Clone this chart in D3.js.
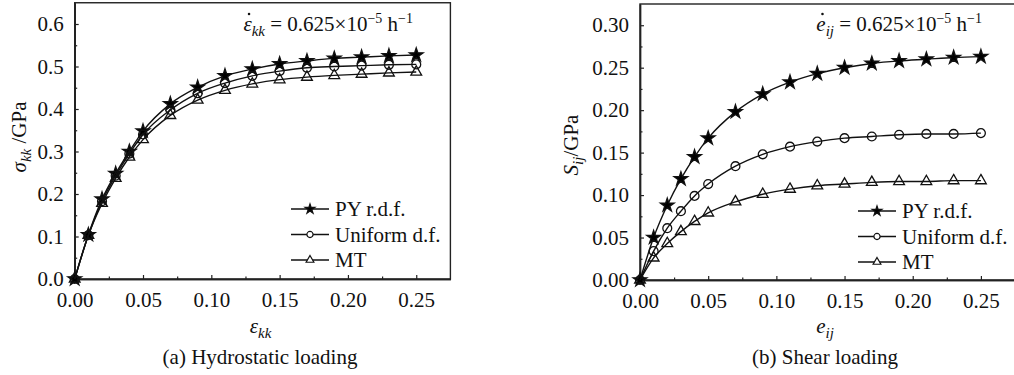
<!DOCTYPE html>
<html>
<head>
<meta charset="utf-8">
<script src="https://cdn.jsdelivr.net/npm/d3@7"></script>
<style>
  body { margin: 0; background: #fff; }
  svg { display: block; }
  text { font-family: "Times New Roman", "Liberation Serif", Tinos, "Noto Serif", "DejaVu Serif", serif; fill: #111; }
</style>
</head>
<body>
<div id="chart"></div>
<script>
// strain values shared by both panels
const strain = [0, 0.01, 0.02, 0.03, 0.04, 0.05, 0.07, 0.09, 0.11, 0.13, 0.15, 0.17, 0.19, 0.21, 0.23, 0.25];

// (a) hydrostatic loading, sigma_kk in GPa
const hydroPY = [0, 0.104, 0.188, 0.248, 0.300, 0.348, 0.412, 0.451, 0.478, 0.494, 0.506, 0.513, 0.519, 0.522, 0.525, 0.527];
const hydroUniform = [0, 0.103, 0.183, 0.243, 0.295, 0.340, 0.398, 0.437, 0.461, 0.478, 0.489, 0.497, 0.500, 0.502, 0.504, 0.505];
const hydroMT = [0, 0.103, 0.178, 0.237, 0.287, 0.328, 0.385, 0.421, 0.444, 0.459, 0.469, 0.475, 0.479, 0.482, 0.485, 0.487];

// (b) shear loading, S_ij in GPa
const shearPY = [0, 0.050, 0.088, 0.119, 0.145, 0.167, 0.198, 0.219, 0.233, 0.243, 0.250, 0.255, 0.258, 0.260, 0.262, 0.263];
const shearUniform = [0, 0.034, 0.061, 0.081, 0.099, 0.113, 0.134, 0.148, 0.157, 0.163, 0.167, 0.169, 0.171, 0.172, 0.172, 0.173];
const shearMT = [0, 0.026, 0.043, 0.057, 0.069, 0.079, 0.092, 0.101, 0.107, 0.111, 0.113, 0.115, 0.116, 0.116, 0.117, 0.117];

const seriesNames = ['PY r.d.f.', 'Uniform d.f.', 'MT'];

const xTicks = [0, 0.05, 0.10, 0.15, 0.20, 0.25];
const xMinor = [0.025, 0.075, 0.125, 0.175, 0.225];
const hydroTicks = [0, 0.1, 0.2, 0.3, 0.4, 0.5, 0.6];
const hydroMinor = [0.05, 0.15, 0.25, 0.35, 0.45, 0.55];
const shearTicks = [0, 0.05, 0.10, 0.15, 0.20, 0.25, 0.30];
const shearMinor = [0.025, 0.075, 0.125, 0.175, 0.225, 0.275];

const width = 1014;
const height = 375;
const serif = '"Times New Roman", "Liberation Serif", Tinos, "Noto Serif", "DejaVu Serif", serif';

const svg = d3.select('#chart')
  .append('svg')
  .attr('width', width)
  .attr('height', height)
  .attr('viewBox', `0 0 ${width} ${height}`);

const symbols = [
  { type: d3.symbolStar, size: 58, legendSize: 30, fill: '#000' },
  { type: d3.symbolCircle, size: 62, legendSize: 30, fill: 'none' },
  { type: d3.symbolTriangle, size: 50, legendSize: 26, fill: 'none' },
];

function drawPanel(p) {
  const x = d3.scaleLinear().domain([0, 0.275]).range([p.left, p.right]);
  const y = d3.scaleLinear().domain([0, p.yMax]).range([p.bottom, p.top]);

  const g = svg.append('g');

  // frame
  g.append('rect')
    .attr('x', p.left).attr('y', p.top)
    .attr('width', p.right - p.left).attr('height', p.bottom - p.top)
    .attr('fill', 'none').attr('stroke', '#222').attr('stroke-width', 1.4);

  const xAxis = g.append('g')
    .attr('transform', `translate(0,${p.bottom})`)
    .call(d3.axisBottom(x).tickValues(xTicks).tickFormat(d3.format('.2f'))
      .tickSize(-4).tickSizeOuter(0).tickPadding(13));
  xAxis.append('g')
    .call(d3.axisBottom(x).tickValues(xMinor).tickFormat('').tickSize(-2.5).tickSizeOuter(0));

  const yAxis = g.append('g')
    .attr('transform', `translate(${p.left},0)`)
    .call(d3.axisLeft(y).tickValues(p.yTicks).tickFormat(d3.format(p.yFormat))
      .tickSize(-4).tickSizeOuter(0).tickPadding(11));
  yAxis.append('g')
    .call(d3.axisLeft(y).tickValues(p.yMinor).tickFormat('').tickSize(-2.5).tickSizeOuter(0));

  g.selectAll('.domain').attr('stroke', '#222').attr('stroke-width', 1.4);
  g.selectAll('.tick line').attr('stroke', '#222').attr('stroke-width', 1.2);
  g.selectAll('g').attr('font-family', serif);
  g.selectAll('.tick text')
    .attr('font-size', 21)
    .attr('fill', '#111');

  const line = d3.line()
    .x((d) => x(d[0]))
    .y((d) => y(d[1]))
    .curve(d3.curveMonotoneX);

  p.series.forEach((vals, i) => {
    const pts = strain.map((s, j) => [s, vals[j]]);
    g.append('path')
      .datum(pts)
      .attr('d', line)
      .attr('fill', 'none')
      .attr('stroke', '#111')
      .attr('stroke-width', 1.4);

    g.append('g')
      .selectAll('path')
      .data(pts)
      .join('path')
      .attr('transform', (d) => `translate(${x(d[0])},${y(d[1])})`)
      .attr('d', d3.symbol().type(symbols[i].type).size(symbols[i].size))
      .attr('fill', symbols[i].fill)
      .attr('stroke', '#111')
      .attr('stroke-width', 1.3);
  });

  // legend
  const lg = g.append('g');
  seriesNames.forEach((name, i) => {
    const ly = p.legendY + i * 25.5;
    lg.append('line')
      .attr('x1', p.legendX).attr('x2', p.legendX + 38)
      .attr('y1', ly).attr('y2', ly)
      .attr('stroke', '#111').attr('stroke-width', 1.4);
    lg.append('path')
      .attr('transform', `translate(${p.legendX + 19},${ly})`)
      .attr('d', d3.symbol().type(symbols[i].type).size(symbols[i].legendSize))
      .attr('fill', symbols[i].fill === 'none' ? '#fff' : symbols[i].fill)
      .attr('stroke', '#111')
      .attr('stroke-width', 1.2);
    lg.append('text')
      .attr('x', p.legendX + 44)
      .attr('y', ly + 7)
      .attr('font-size', 21)
      .text(name);
  });

  // rate annotation, top right (dot over the symbol drawn as its own mark)
  const ann = g.append('text')
    .attr('x', p.annX)
    .attr('y', 31)
    .attr('text-anchor', 'end')
    .attr('font-size', 21);
  const sym = ann.append('tspan').attr('font-style', 'italic').text(p.rateSym);
  ann.append('tspan').attr('font-style', 'italic').attr('font-size', 15).attr('dy', 5).text(p.rateSub);
  ann.append('tspan').attr('dy', -5).text(' = 0.625\u00d710');
  ann.append('tspan').attr('font-size', 14).attr('dy', -8).text('\u22125');
  ann.append('tspan').attr('dy', 8).text(' h');
  ann.append('tspan').attr('font-size', 14).attr('dy', -8).text('\u22121');
  const sb = sym.node().getBBox ? ann.node().getExtentOfChar(0) : null;
  if (sb) {
    g.append('circle')
      .attr('cx', sb.x + sb.width / 2 + 1.5)
      .attr('cy', 14)
      .attr('r', 1.3)
      .attr('fill', '#111');
  }

  // x label
  const xl = g.append('text')
    .attr('x', (p.left + Math.min(p.right, 1014)) / 2 - 2)
    .attr('y', 333)
    .attr('text-anchor', 'middle')
    .attr('font-size', 21);
  xl.append('tspan').attr('font-style', 'italic').text(p.xSym);
  xl.append('tspan').attr('font-style', 'italic').attr('font-size', 15).attr('dy', 5).text(p.xSub);

  // y label
  const yl = g.append('text')
    .attr('transform', `translate(${p.yLabelX},${p.yLabelY}) rotate(-90)`)
    .attr('text-anchor', 'middle')
    .attr('font-size', 21);
  yl.append('tspan').attr('font-style', 'italic').text(p.ySym);
  yl.append('tspan').attr('font-style', 'italic').attr('font-size', 15).attr('dy', 5).text(p.ySub);
  yl.append('tspan').attr('dy', -5).text(p.yUnit);

  // caption
  g.append('text')
    .attr('x', p.captionX)
    .attr('y', 364)
    .attr('text-anchor', 'middle')
    .attr('font-size', 21)
    .text(p.caption);
}

drawPanel({
  left: 74.7, right: 450.4, top: 2.75, bottom: 279,
  yMax: 0.65, yTicks: hydroTicks, yMinor: hydroMinor, yFormat: '.1f',
  series: [hydroPY, hydroUniform, hydroMT],
  legendX: 291, legendY: 209,
  annX: 413, rateSym: '\u03b5', rateSub: 'kk',
  xSym: '\u03b5', xSub: 'kk',
  ySym: '\u03c3', ySub: 'kk', yUnit: ' /GPa', yLabelX: 26, yLabelY: 137,
  caption: '(a) Hydrostatic loading', captionX: 260,
});

drawPanel({
  left: 640, right: 1015, top: 4, bottom: 280,
  yMax: 0.325, yTicks: shearTicks, yMinor: shearMinor, yFormat: '.2f',
  series: [shearPY, shearUniform, shearMT],
  legendX: 858, legendY: 211,
  annX: 982, rateSym: 'e', rateSub: 'ij',
  xSym: 'e', xSub: 'ij',
  ySym: 'S', ySub: 'ij', yUnit: '/GPa', yLabelX: 578, yLabelY: 145,
  caption: '(b) Shear loading', captionX: 825,
});
</script>
</body>
</html>
